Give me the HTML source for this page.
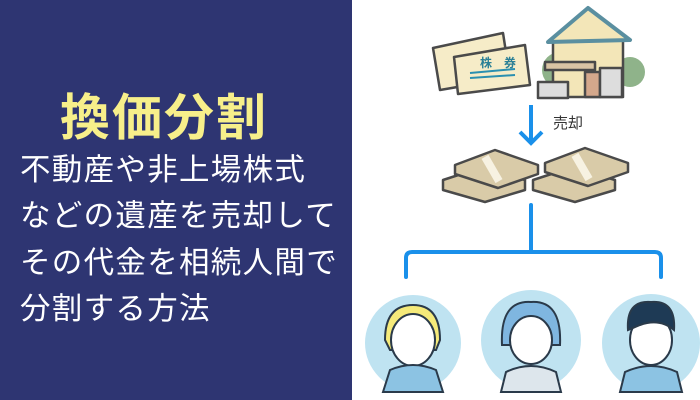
<!DOCTYPE html>
<html><head><meta charset="utf-8"><style>
body{margin:0;width:700px;height:400px;overflow:hidden;background:#fff;font-family:"Liberation Sans","Noto Sans CJK JP",sans-serif;position:relative}
#l{position:absolute;left:0;top:0;width:352px;height:400px;background:#2e3572}
.t{position:absolute;left:60px;top:78px;font-size:50px;font-weight:bold;color:#f7ef8a;letter-spacing:2px;white-space:nowrap}
.b{position:absolute;left:20px;color:#fff;font-size:30.5px;white-space:nowrap;letter-spacing:1.3px}
svg{position:absolute;left:0;top:0}
</style></head><body>
<div id="l">
<div class="t">換価分割</div>
<div class="b" style="top:145px">不動産や非上場株式</div>
<div class="b" style="top:191px">などの遺産を売却して</div>
<div class="b" style="top:238px">その代金を相続人間で</div>
<div class="b" style="top:284px">分割する方法</div>
</div>
<svg width="700" height="400">
<g stroke="#4a4a4a" stroke-width="2.5" stroke-linejoin="round">
<polygon points="433,48 503,33 510,78 440,90" fill="#f6ecc8"/>
<polygon points="454,57 525,45 530,85 458,94" fill="#f6ecc8"/>
<circle cx="560" cy="70" r="18" fill="#8fb38a" stroke="none"/>
<circle cx="630" cy="72" r="15" fill="#8fb38a" stroke="none"/>
<rect x="553" y="40" width="70" height="57" fill="#f3e6b8"/>
<polygon points="548,42 588,8 630,40" fill="#f3e6b8" stroke="#5a8fa0" stroke-width="4"/>
<rect x="545" y="62" width="50" height="8" fill="#d9c4a4"/>
<rect x="585" y="72" width="15" height="25" fill="#d4a88c"/>
<rect x="600" y="68" width="22" height="29" fill="#dddddd"/>
<rect x="538" y="82" width="30" height="16" fill="#ddd"/>
</g>
<text x="480" y="67" font-size="12" fill="#2a7f96" font-weight="bold" font-family="Noto Sans CJK JP">株　券</text>
<line x1="470" y1="73" x2="515" y2="69" stroke="#2a8fb0" stroke-width="2"/>
<line x1="470" y1="78" x2="515" y2="75" stroke="#2a8fb0" stroke-width="2"/>
<line x1="531" y1="105" x2="531" y2="142" stroke="#1a90ea" stroke-width="4"/>
<polyline points="520,132 531,143 542,132" fill="none" stroke="#1a90ea" stroke-width="4"/>
<text x="553" y="128" font-size="15" fill="#333">売却</text>
<g stroke="#4a4a4a" stroke-width="2.5" stroke-linejoin="round" fill="#d9cba8">
<polygon points="443,180 483,167 525,180 525,190 485,202 443,190"/>
<polygon points="455,165 495,150 538,165 538,174 498,188 455,174"/>
<polygon points="533,180 573,167 615,180 615,190 575,202 533,190"/>
<polygon points="545,163 585,148 628,163 628,172 588,186 545,172"/>
</g>
<g fill="#f7f2e2"><rect x="488" y="155" width="8" height="28" transform="rotate(-30 492 169)"/><rect x="578" y="153" width="8" height="28" transform="rotate(-30 582 167)"/></g>
<path d="M531 205V252M406 277V258Q406 252 412 252H655Q661 252 661 258V277" fill="none" stroke="#1a90ea" stroke-width="4" stroke-linecap="round"/>
<circle cx="413" cy="343" r="48" fill="#bfe3f1"/>
<circle cx="531" cy="340" r="50" fill="#bfe3f1"/>
<circle cx="651" cy="343" r="49" fill="#bfe3f1"/>
<g stroke="#2a3a4a" stroke-width="2">
<path d="M385 340Q385 305 413 305Q440 305 440 340L436 350H390Z" fill="#f5ea7a"/>
<ellipse cx="413" cy="340" rx="22" ry="26" fill="#fff"/>
<path d="M383 392L390 370Q413 360 436 370L443 392Z" fill="#8cc3e3"/>
<path d="M502 345Q500 300 531 302Q562 300 560 345Z" fill="#7fb6e0"/>
<ellipse cx="531" cy="340" rx="21" ry="24" fill="#fff"/>
<path d="M501 392L506 372Q531 360 556 372L561 392Z" fill="#dde6ec"/>
<ellipse cx="651" cy="340" rx="21" ry="25" fill="#fff"/>
<path d="M628 330Q626 300 651 302Q676 300 674 330Q660 318 640 325Z" fill="#1e3a55"/>
<path d="M620 392L625 372Q651 360 677 372L682 392Z" fill="#8cc3e3"/>
</g>
</svg>
</body></html>
